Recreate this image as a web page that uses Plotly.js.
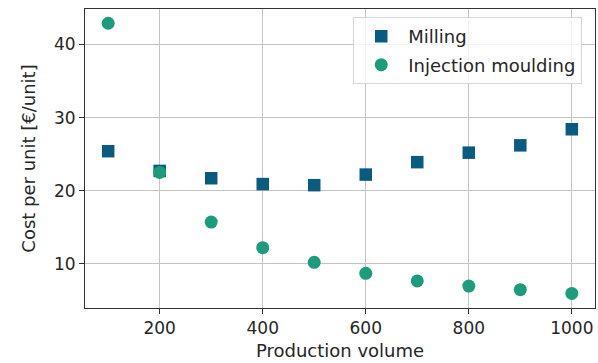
<!DOCTYPE html>
<html>
<head>
<meta charset="utf-8">
<script src="https://cdn.plot.ly/plotly-3.0.1.min.js"></script>
<style>html,body{margin:0;padding:0;background:#fff;}#chart{width:598px;height:363px;}</style>
</head>
<body>
<div id="chart"></div>
<script>
const productionVolume = [100, 200, 300, 400, 500, 600, 700, 800, 900, 1000];
const millingCost = [25.4, 22.7, 21.7, 20.9, 20.75, 22.2, 23.9, 25.2, 26.2, 28.4];
const injectionCost = [42.9, 22.5, 15.7, 12.2, 10.2, 8.7, 7.65, 6.95, 6.45, 5.95];
const xTicks = [200, 400, 600, 800, 1000];
const yTicks = [10, 20, 30, 40];

const FONT = 'DejaVu Sans, sans-serif';
const traces = [
  {x: productionVolume, y: millingCost, type: 'scatter', mode: 'markers', name: 'Milling',
   legendgroup: 'a',
   marker: {symbol: 'square', size: 12.5, color: '#0b5a80', line: {width: 0}}},
  {x: productionVolume, y: injectionCost, type: 'scatter', mode: 'markers', name: 'Injection moulding',
   legendgroup: 'b',
   marker: {symbol: 'circle', size: 13, color: '#1b9c7c', line: {width: 0}}}
];
const axisCommon = {
  showline: true, mirror: true, linecolor: '#333', linewidth: 1,
  showgrid: true, gridcolor: '#c4c4c4', gridwidth: 1,
  zeroline: false, ticks: 'outside', ticklen: 5, tickcolor: '#333', tickwidth: 1,
  tickfont: {family: FONT, size: 17, color: '#262626'}
};
const layout = {
  width: 598, height: 363,
  margin: {l: 85, r: 2.5, t: 9, b: 55},
  paper_bgcolor: '#fff', plot_bgcolor: '#fff',
  font: {family: FONT, size: 17, color: '#262626'},
  xaxis: Object.assign({}, axisCommon, {
    range: [55, 1045], tickvals: xTicks, ticktext: xTicks.map(String),
    title: {text: 'Production volume', font: {family: FONT, size: 18, color: '#262626'}, standoff: 6}
  }),
  yaxis: Object.assign({}, axisCommon, {
    range: [3.95, 44.85], tickvals: yTicks, ticktext: yTicks.map(String),
    title: {text: 'Cost per unit [€/unit]', font: {family: FONT, size: 18, color: '#262626'}, standoff: 13}
  }),
  legend: {
    x: 0.975, y: 0.973, xanchor: 'right', yanchor: 'top',
    bgcolor: 'rgba(255,255,255,0.8)', bordercolor: '#d6d6d6', borderwidth: 1,
    font: {family: FONT, size: 18, color: '#262626'},
    tracegroupgap: 2, itemwidth: 44
  },
  showlegend: true
};
Plotly.newPlot('chart', traces, layout, {staticPlot: true, displayModeBar: false});
</script>
</body>
</html>
